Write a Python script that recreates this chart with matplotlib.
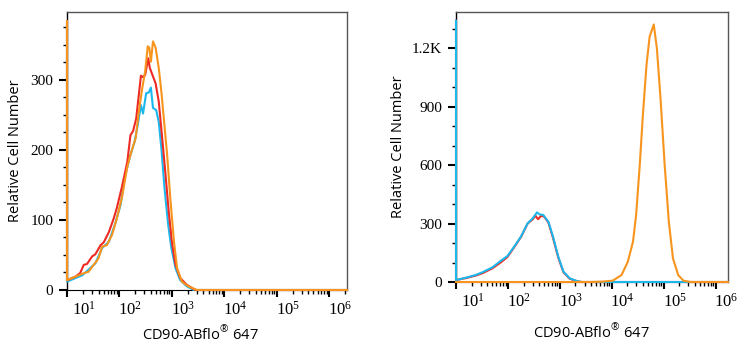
import numpy as np
import matplotlib
matplotlib.use("Agg")
import matplotlib.pyplot as plt
from matplotlib import transforms
from matplotlib.ticker import FixedLocator, MultipleLocator, LogLocator, NullFormatter

plt.rcParams["mathtext.fontset"] = "custom"
plt.rcParams["mathtext.rm"] = "Liberation Serif"
plt.rcParams["mathtext.sf"] = "Open Sans"

LEFT_XMAX = 6.34
RIGHT_XMAX = 6.24

# ---- Left panel: overlaid histograms (log10 intensity, counts) ----
left_red_exp = [1.0, 1.0, 1.16, 1.25, 1.32, 1.38, 1.48, 1.54, 1.64, 1.70, 1.80, 1.89, 1.95,
                2.05, 2.15, 2.21, 2.26, 2.32, 2.37, 2.41, 2.45, 2.49, 2.55, 2.58, 2.64, 2.69,
                2.75, 2.81, 2.88, 2.94, 3.00, 3.07, 3.16, 3.29, 3.45, LEFT_XMAX]
left_red_cnt = [380, 14, 19, 24, 36, 37, 48, 51, 64, 68, 83, 102, 117,
                148, 183, 221, 227, 245, 279, 306, 304, 307, 331, 317, 305, 295,
                269, 221, 164, 112, 69, 36, 17, 7, 0, 0]

left_cyan_exp = [1.0, 1.0, 1.16, 1.29, 1.41, 1.54, 1.67, 1.80, 1.92, 2.02, 2.11, 2.21, 2.29,
                 2.35, 2.41, 2.45, 2.51, 2.56, 2.60, 2.64, 2.70, 2.75, 2.80, 2.86, 2.93,
                 2.99, 3.07, 3.16, 3.29, 3.42, LEFT_XMAX]
left_cyan_cnt = [380, 12, 17, 21, 29, 38, 60, 69, 95, 121, 164, 193, 212,
                 236, 264, 252, 281, 282, 289, 260, 257, 240, 202, 145, 93,
                 60, 31, 14, 5, 0, 0]

left_orange_exp = [1.0, 1.0, 1.16, 1.32, 1.41, 1.51, 1.60, 1.67, 1.76, 1.86, 1.95, 2.05, 2.15,
                   2.23, 2.31, 2.37, 2.43, 2.49, 2.54, 2.57, 2.60, 2.64, 2.69, 2.75, 2.80,
                   2.84, 2.91, 2.97, 3.04, 3.10, 3.19, 3.32, 3.48, LEFT_XMAX]
left_orange_cnt = [384, 14, 19, 24, 26, 36, 45, 62, 64, 79, 102, 133, 176,
                   198, 217, 255, 286, 312, 348, 346, 326, 355, 346, 317, 283,
                   250, 193, 131, 69, 31, 12, 5, 0, 0]

# ---- Right panel ----
right_red_exp = [1.0, 1.0, 1.19, 1.38, 1.51, 1.70, 1.86, 1.99, 2.12, 2.25, 2.38, 2.48, 2.53,
                 2.58, 2.64, 2.70, 2.78, 2.87, 2.97, 3.07, 3.19, 3.33, 3.42, RIGHT_XMAX]
right_red_cnt = [1340, 10, 20, 33, 45, 70, 100, 128, 178, 230, 300, 322, 340,
                 322, 340, 335, 305, 225, 125, 50, 17, 4, 0, 0]

right_cyan_exp = [1.0, 1.0, 1.19, 1.38, 1.51, 1.70, 1.86, 1.99, 2.12, 2.25, 2.38, 2.48, 2.56,
                  2.61, 2.68, 2.78, 2.87, 2.97, 3.07, 3.19, 3.33, 3.42, RIGHT_XMAX]
right_cyan_cnt = [1340, 10, 22, 36, 50, 75, 108, 133, 181, 232, 301, 327, 357,
                  347, 344, 309, 232, 130, 53, 19, 5, 0, 0]

right_orange_exp = [1.0, 3.60, 3.83, 4.02, 4.19, 4.31, 4.41, 4.47, 4.54, 4.60, 4.67, 4.73,
                    4.81, 4.87, 4.94, 5.02, 5.10, 5.18, 5.28, 5.38, 5.52, RIGHT_XMAX]
right_orange_cnt = [0, 0, 2, 7, 36, 104, 207, 344, 600, 856, 1113, 1258,
                    1321, 1198, 942, 600, 309, 121, 36, 7, 0, 0]

x_decades = [1, 2, 3, 4, 5, 6]
left_yticks = [0, 100, 200, 300]
left_ylabels = ["0", "100", "200", "300"]
right_yticks = [0, 300, 600, 900, 1200]
right_ylabels = ["0", "300", "600", "900", "1.2K"]

RED = "#ee2a24"
CYAN = "#1cb7ec"
ORANGE = "#f7941d"

fig = plt.figure(figsize=(7.39, 3.5), dpi=100)
ax1 = fig.add_axes([67 / 739, 1 - 290 / 350, 280 / 739, 278 / 350])
ax2 = fig.add_axes([456 / 739, 1 - 282 / 350, 272 / 739, 270 / 350])

label_font = "Open Sans"
tick_font = "Liberation Serif"


def style_axis(ax, xmax_exp, ymax, yticks, ylabels, yminor, xlab_xy, ylab_xy):
    ax.set_xscale("log")
    ax.set_xlim(10 ** 1, 10 ** xmax_exp)
    ax.set_ylim(0, ymax)
    for side in ("top", "right"):
        ax.spines[side].set_color("#555555")
        ax.spines[side].set_linewidth(1.0)
    ax.spines["left"].set_color("black")
    ax.spines["bottom"].set_color("black")
    ax.spines["left"].set_linewidth(1.0)

    ax.xaxis.set_major_locator(FixedLocator([10.0 ** d for d in x_decades]))
    ax.xaxis.set_minor_locator(LogLocator(base=10, subs=np.arange(2, 10), numticks=20))
    ax.xaxis.set_minor_formatter(NullFormatter())
    ax.set_xticklabels([r"$\mathrm{10^{%d}}$" % d for d in x_decades])

    ax.yaxis.set_major_locator(FixedLocator(yticks))
    ax.set_yticklabels(ylabels)
    ax.yaxis.set_minor_locator(MultipleLocator(yminor))

    ax.tick_params(axis="x", which="major", length=5, width=1.5, pad=3, labelsize=12)
    ax.tick_params(axis="x", which="minor", length=3, width=1.0)
    ax.tick_params(axis="y", which="major", length=6, width=1.5, pad=4, labelsize=11)
    ax.tick_params(axis="y", which="minor", length=3, width=1.0)
    for lab in ax.get_yticklabels():
        lab.set_fontfamily(tick_font)

    for i, lab in enumerate(ax.xaxis.get_majorticklabels()):
        dx = 17 if i == 0 else 11
        shift = transforms.ScaledTranslation(dx / 100, 0, fig.dpi_scale_trans)
        lab.set_transform(lab.get_transform() + shift)

    ax.set_xlabel("CD90-ABflo$^{\\mathsf{\u00ae}}$ 647", fontsize=10.5, family=label_font)
    ax.set_ylabel("Relative Cell Number", fontsize=10.5, family=label_font)
    ax.xaxis.set_label_coords(*xlab_xy)
    ax.xaxis.label.set_va("center")
    ax.yaxis.set_label_coords(*ylab_xy)
    ax.yaxis.label.set_va("center")


def draw(ax, exps, cnts, color):
    ax.plot(np.power(10.0, exps), cnts, color=color, lw=1.5, clip_on=False,
            zorder=3, solid_joinstyle="round")


draw(ax1, left_cyan_exp, left_cyan_cnt, CYAN)
draw(ax1, left_red_exp, left_red_cnt, RED)
draw(ax1, left_orange_exp, left_orange_cnt, ORANGE)

draw(ax2, right_red_exp, right_red_cnt, RED)
draw(ax2, right_cyan_exp, right_cyan_cnt, CYAN)
draw(ax2, right_orange_exp, right_orange_cnt, ORANGE)

style_axis(ax1, LEFT_XMAX, 397, left_yticks, left_ylabels, 25,
           ((200 - 67) / 280, (290 - 335) / 278), ((15 - 67) / 280, 0.5))
style_axis(ax2, RIGHT_XMAX, 1385, right_yticks, right_ylabels, 100,
           ((591 - 456) / 272, (282 - 333) / 270), ((398 - 456) / 272, 0.5))

fig.savefig("out.png", dpi=100)
